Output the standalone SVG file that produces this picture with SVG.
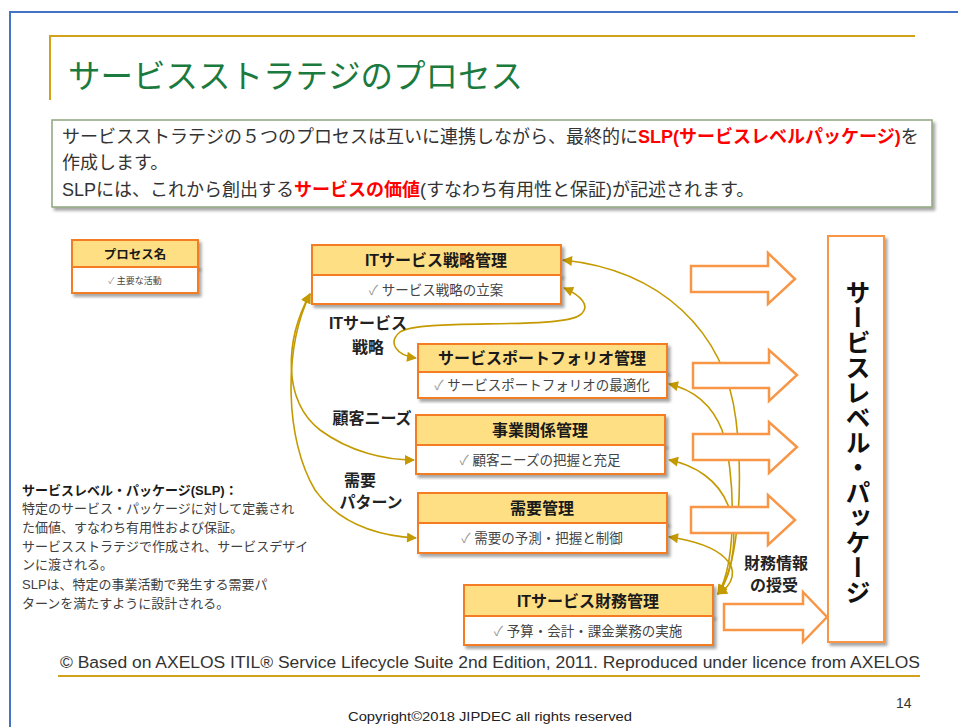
<svg xmlns="http://www.w3.org/2000/svg" width="958" height="727" viewBox="0 0 958 727">
<defs>
<filter id="sh" x="-10%" y="-10%" width="130%" height="130%">
<feDropShadow dx="2.5" dy="3" stdDeviation="1.8" flood-color="#000" flood-opacity="0.35"/>
</filter>
<marker id="ah" viewBox="0 0 10 10" refX="9" refY="5" markerWidth="11" markerHeight="10" markerUnits="userSpaceOnUse" orient="auto-start-reverse">
<path d="M0,0 L10,5 L0,10 Z" fill="#C49A00"/>
</marker>
<style>
text{font-family:"Liberation Sans","Noto Sans CJK JP",sans-serif;}
.hdr{fill:#FFDF84;stroke:#F47B20;stroke-width:2}
.bdy{fill:#fff;stroke:#F47B20;stroke-width:2}
.ht{font-size:16px;font-weight:bold;text-anchor:middle;fill:#1a1a1a}
.bt{font-size:13.5px;text-anchor:middle;fill:#444}
.ck{fill:#999}
.conn{fill:none;stroke:#C49A00;stroke-width:1.6;marker-start:url(#ah);marker-end:url(#ah)}
.ha{fill:#fff;stroke:#F79646;stroke-width:2.5}
.lbl{font-size:16px;font-weight:bold;fill:#222;text-anchor:middle}
.desc{font-size:13px;fill:#404040}
.red{fill:#FF0000;font-weight:bold}
</style>
</defs>
<rect width="958" height="727" fill="#fff"/>
<!-- frame -->
<path d="M10,727 V12 H958" fill="none" stroke="#4472C4" stroke-width="2"/>
<!-- title -->
<path d="M50,100 V36 H915" fill="none" stroke="#D4A21A" stroke-width="2"/>
<text x="68" y="88" font-size="32.5" fill="#1B7A3E">サービスストラテジのプロセス</text>
<!-- description box -->
<g id="intro">
<rect x="52" y="120" width="880" height="87" fill="#fff" stroke="#8FA57E" stroke-width="1.5" filter="url(#sh)"/>
<text x="62" y="143" font-size="18" fill="#333">サービスストラテジの５つのプロセスは互いに連携しながら、最終的に<tspan class="red">SLP(サービスレベルパッケージ)</tspan>を</text>
<text x="62" y="169" font-size="18" fill="#333">作成します。</text>
<text x="62" y="196" font-size="18" fill="#333">SLPには、これから創出する<tspan class="red">サービスの価値</tspan>(すなわち有用性と保証)が記述されます。</text>
</g>
<!-- legend -->
<g id="legend">
<rect x="72" y="240" width="126" height="27" class="hdr" filter="url(#sh)"/>
<rect x="72" y="267" width="126" height="26" class="bdy" filter="url(#sh)"/>
<text x="135" y="259" font-size="12.5" font-weight="bold" text-anchor="middle" fill="#1a1a1a">プロセス名</text>
<text x="135" y="284" font-size="9" text-anchor="middle" fill="#444"><tspan class="ck">✓</tspan>  主要な活動</text>
</g>
<!-- connectors -->
<g id="connectors">
<path class="conn" d="M310,294 C285,340 282,400 320,430 C350,452 385,460 414,460"/>
<path class="conn" d="M310,294 C283,350 285,440 315,490 C340,525 380,536 416,538"/>
<path class="conn" d="M564,288 C580,295 592,306 580,315 C560,330 420,318 400,332 C388,342 395,355 416,358"/>
<path class="conn" d="M718,594 C742,560 742,470 736,420 C725,330 660,270 563,260"/>
<path class="conn" d="M718,594 C738,560 735,470 722,430 C712,405 695,390 669,384"/>
<path class="conn" d="M718,594 C735,570 738,530 728,505 C718,480 695,465 669,460"/>
<path class="conn" d="M718,594 C733,585 738,570 725,558 C712,545 690,540 669,537"/>
</g>
<!-- hollow arrows -->
<g id="arrows">
<polygon class="ha" points="691,266 768,266 768,253 795,279 768,304 768,292 691,292"/>
<polygon class="ha" points="693,363 769,363 769,350 797,375 769,401 769,388 693,388"/>
<polygon class="ha" points="693,434 769,434 769,422 797,447 769,473 769,460 693,460"/>
<polygon class="ha" points="691,507 768,507 768,495 795,520 768,545 768,533 691,533"/>
<polygon class="ha" points="724,604 803,604 803,592 827,617 803,642 803,630 724,630"/>
</g>
<!-- nodes -->
<g id="n1">
<rect x="312" y="245" width="249" height="30" class="hdr" filter="url(#sh)"/>
<rect x="312" y="275" width="249" height="29" class="bdy" filter="url(#sh)"/>
<text x="436" y="266" class="ht">ITサービス戦略管理</text>
<text x="436" y="295" class="bt"><tspan class="ck">✓</tspan> サービス戦略の立案</text>
</g>
<g id="n2">
<rect x="418" y="344" width="249" height="28" class="hdr" filter="url(#sh)"/>
<rect x="418" y="372" width="249" height="26" class="bdy" filter="url(#sh)"/>
<text x="542" y="364" class="ht">サービスポートフォリオ管理</text>
<text x="542" y="390" class="bt"><tspan class="ck">✓</tspan> サービスポートフォリオの最適化</text>
</g>
<g id="n3">
<rect x="416" y="415" width="249" height="30" class="hdr" filter="url(#sh)"/>
<rect x="416" y="445" width="249" height="29" class="bdy" filter="url(#sh)"/>
<text x="540" y="436" class="ht">事業関係管理</text>
<text x="540" y="465" class="bt"><tspan class="ck">✓</tspan> 顧客ニーズの把握と充足</text>
</g>
<g id="n4">
<rect x="418" y="493" width="249" height="30" class="hdr" filter="url(#sh)"/>
<rect x="418" y="523" width="249" height="30" class="bdy" filter="url(#sh)"/>
<text x="542" y="514" class="ht">需要管理</text>
<text x="542" y="543" class="bt"><tspan class="ck">✓</tspan> 需要の予測・把握と制御</text>
</g>
<g id="n5">
<rect x="464" y="585" width="249" height="31" class="hdr" filter="url(#sh)"/>
<rect x="464" y="616" width="249" height="29" class="bdy" filter="url(#sh)"/>
<text x="588" y="607" class="ht">ITサービス財務管理</text>
<text x="588" y="636" class="bt"><tspan class="ck">✓</tspan> 予算・会計・課金業務の実施</text>
</g>
<g id="slp">
<rect x="828" y="236" width="56" height="406" fill="#fff" stroke="#F79646" stroke-width="2" filter="url(#sh)"/>
<text x="856" y="442" font-size="25" font-weight="bold" fill="#111" text-anchor="middle" style="writing-mode:vertical-rl">サービスレベル・パッケージ</text>
</g>
<!-- connector labels -->
<g id="labels">
<text x="368" y="329" class="lbl">ITサービス</text>
<text x="368" y="353" class="lbl">戦略</text>
<text x="372" y="424" class="lbl">顧客ニーズ</text>
<text x="360" y="486" class="lbl">需要</text>
<text x="371" y="508" class="lbl">パターン</text>
<text x="776" y="569" class="lbl">財務情報</text>
<text x="774" y="591" class="lbl">の授受</text>
</g>
<!-- SLP description -->
<g id="slpdesc">
<text x="22" y="495" font-size="13" font-weight="bold" fill="#1a1a1a">サービスレベル・パッケージ(SLP)：</text>
<text x="22" y="513" class="desc">特定のサービス・パッケージに対して定義され</text>
<text x="22" y="532" class="desc">た価値、すなわち有用性および保証。</text>
<text x="22" y="551" class="desc">サービスストラテジで作成され、サービスデザイ</text>
<text x="22" y="569" class="desc">ンに渡される。</text>
<text x="22" y="589" class="desc">SLPは、特定の事業活動で発生する需要パ</text>
<text x="22" y="608" class="desc">ターンを満たすように設計される。</text>
</g>
<!-- footer -->
<text x="60" y="668" font-size="16" fill="#333" textLength="860" lengthAdjust="spacingAndGlyphs">© Based on AXELOS ITIL® Service Lifecycle Suite 2nd Edition, 2011. Reproduced under licence from AXELOS</text>
<line x1="58" y1="676" x2="920" y2="676" stroke="#D4A21A" stroke-width="2"/>
<text x="896" y="708" font-size="14" fill="#333">14</text>
<text x="348" y="721" font-size="13" fill="#222" textLength="284" lengthAdjust="spacingAndGlyphs">Copyright©2018 JIPDEC all rights reserved</text>
</svg>
